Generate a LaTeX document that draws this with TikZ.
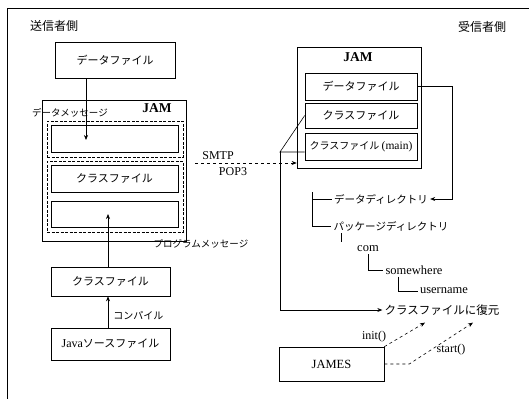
\documentclass[tikz,border=0pt]{standalone}
\usepackage{fontspec}
\setmainfont{Liberation Serif}
\newfontfamily\jp{Noto Sans CJK JP}
\usetikzlibrary{arrows.meta, positioning, calc}

\begin{document}
\begin{tikzpicture}[x=1pt, y=-1pt, >={Stealth[length=5pt,width=4pt]}, line width=0.6pt]
  \tikzstyle{box} = [rectangle, draw, inner sep=0pt, font=\jp\fontsize{11}{13}\selectfont]
  \tikzstyle{msg} = [rectangle, draw, dash pattern=on 3pt off 1.5pt, inner sep=0pt]
  \tikzstyle{lbl} = [inner sep=2pt, font=\jp\fontsize{10.5}{12}\selectfont]
  \tikzstyle{latin} = [inner sep=2pt, font=\fontsize{12.5}{14}\selectfont]
  \tikzstyle{head} = [inner sep=2pt, font=\bfseries\fontsize{13.5}{15}\selectfont]

  \useasboundingbox (0,0) rectangle (529,399);
  \draw[line width=0.8pt] (529,8) -- (7,8) -- (7,399);

  % sender side
  \node [lbl, font=\jp\fontsize{12}{14}\selectfont] (sender) at (54,26) {送信者側};
  \node [box, minimum width=120pt, minimum height=36pt] (datafile) at (115,60) {データファイル};

  \node [box, minimum width=144pt, minimum height=141pt] (jamL) at (114,170.5) {};
  \node [head] (jamLt) at (157,108) {JAM};
  \node [msg, minimum width=136pt, minimum height=36pt] (dmsg) at (115,139) {};
  \node [box, minimum width=127pt, minimum height=27pt] (slot1) at (114.5,138.5) {};
  \node [msg, minimum width=136pt, minimum height=71pt] (pmsg) at (115,196.5) {};
  \node [box, minimum width=127pt, minimum height=27pt] (slot2) at (114.5,178.5) {クラスファイル};
  \node [box, minimum width=127pt, minimum height=26pt] (slot3) at (114.5,214) {};
  \node [lbl, font=\jp\fontsize{9.5}{11}\selectfont] (dmsgt) at (70,113) {データメッセージ};
  \node [lbl, font=\jp\fontsize{9.5}{11}\selectfont] (pmsgt) at (201,244) {プログラムメッセージ};

  \node [box, minimum width=119pt, minimum height=29pt] (classL) at (110.5,281.5) {クラスファイル};
  \node [box, minimum width=119pt, minimum height=32pt] (java) at (110.5,344) {{\rmfamily\fontsize{12}{13}\selectfont Java}ソースファイル};
  \node [lbl, font=\jp\fontsize{10}{12}\selectfont, anchor=west] (compile) at (111,316) {コンパイル};

  \node [latin, font=\fontsize{12}{14}\selectfont] (smtp) at (218,156) {SMTP};
  \node [latin, font=\fontsize{12}{14}\selectfont] (pop) at (233,172) {POP3};

  % receiver side
  \node [lbl, font=\jp\fontsize{12}{14}\selectfont] (receiver) at (482,27) {受信者側};
  \node [box, minimum width=124pt, minimum height=121pt] (jamR) at (359,107.5) {};
  \node [head] (jamRt) at (358,57) {JAM};
  \node [box, minimum width=112pt, minimum height=27pt] (rdata) at (361,86.5) {データファイル};
  \node [box, minimum width=112pt, minimum height=25pt] (rclass) at (361,115.5) {クラスファイル};
  \node [box, minimum width=112pt, minimum height=27pt, font=\jp\fontsize{10}{12}\selectfont] (rmain) at (361,146.5) {クラスファイル {\rmfamily\fontsize{11.5}{12}\selectfont (main)}};

  \node [lbl] (ddir) at (381,199) {データディレクトリ};
  \node [lbl] (pdir) at (391,226) {パッケージディレクトリ};
  \node [latin] (com) at (368,249) {com};
  \node [latin] (somewhere) at (414,270) {somewhere};
  \node [latin] (username) at (444,291) {username};
  \node [lbl, font=\jp\fontsize{11.5}{13}\selectfont] (restore) at (442,310) {クラスファイルに復元};

  \node [box, font=\fontsize{12.5}{14}\selectfont, minimum width=105pt, minimum height=34pt] (james) at (331.5,364) {JAMES};
  \node [latin, font=\fontsize{12}{14}\selectfont] (init) at (374,337) {init()};
  \node [latin, font=\fontsize{12}{14}\selectfont] (start) at (451,350) {start()};

  % connectors
  \coordinate (dtip) at (86,140);
  \coordinate (ctip) at (108,214);
  \draw[->] (datafile.south -| dtip) -- (dtip);
  \draw[->] (classL.north -| ctip) -- (ctip);
  \draw[->] (java.north -| ctip) -- (classL.south -| ctip);

  \coordinate (tx) at (195,163);
  \draw[->, dashed] (tx) -- (tx -| jamR.west);

  \coordinate (tree) at (312,192);
  \draw (tree) |- (ddir.west);
  \draw (tree) |- (pdir.west);
  \draw ([xshift=10pt]pdir.south west) -- ++(0,9);
  \draw (com.south) |- (somewhere.west);
  \draw ([xshift=-16pt]somewhere.south) |- (username.west);
  \draw[->] (rdata.east) -- ++(35,0) |- (ddir.east);

  \coordinate (jn) at (280,152);
  \draw (rclass.west) -- (jn) -- (jn -| rmain.west);
  \draw[->] (jn) |- (restore.west);

  \draw[->, dashed] (james.north east) -- ($(restore.south)+(-17,5)$);
  \draw[->, dashed] (james.east) -- ++(25,0) -- ($(restore.south)+(31,5)$);
\end{tikzpicture}
\end{document}
